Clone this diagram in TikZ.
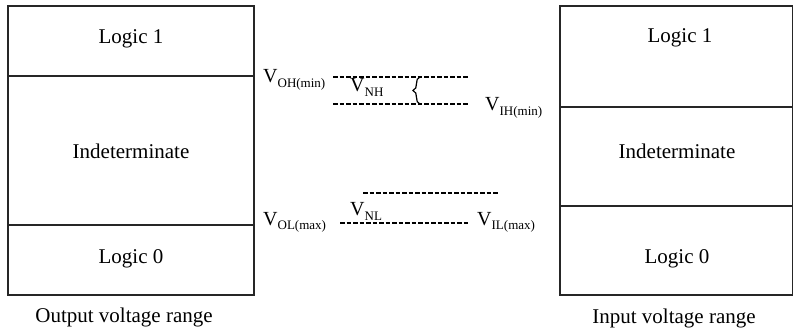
\documentclass[tikz,border=0pt]{standalone}
\usepackage{fontspec}
\setmainfont{Liberation Serif}
\newcommand{\Vsub}[1]{V\raisebox{-4.5pt}{\fontsize{13}{13}\selectfont #1}}
\begin{document}
\begin{tikzpicture}[x=1pt,y=-1pt,
  boxline/.style={draw=black!85,line width=1.4pt},
  lbl/.style={inner sep=0pt,anchor=base,font=\fontsize{21}{25}\selectfont},
  vlbl/.style={inner sep=0pt,anchor=base west,font=\fontsize{20}{24}\selectfont},
  dashline/.style={draw=black,line width=2.2pt,dash pattern=on 4.5pt off 2pt}]
\useasboundingbox (0,0) rectangle (794,331);
% left box
\draw[boxline] (8,6) rectangle (254,295);
\draw[boxline] (8,76) -- (254,76);
\draw[boxline] (8,225) -- (254,225);
\node[lbl] (l1) at (131,44) {Logic 1};
\node[lbl] (li) at (131,159) {Indeterminate};
\node[lbl] (l0) at (131,263) {Logic 0};
\node[lbl] (lcap) at (124,322) {Output voltage range};
% right box
\draw[boxline] (560,6) rectangle (792.5,295);
\draw[boxline] (560,107) -- (792.5,107);
\draw[boxline] (560,206) -- (792.5,206);
\node[lbl] (r1) at (680,43) {Logic 1};
\node[lbl] (ri) at (677,159) {Indeterminate};
\node[lbl] (r0) at (677,263) {Logic 0};
\node[lbl] (rcap) at (674,323) {Input voltage range};
% high noise margin
\node[vlbl] (voh) at (263,83) {\Vsub{OH(min)}};
\node[vlbl] (vnh) at (350,92) {\Vsub{NH}};
\node[vlbl] (vih) at (485,111) {\Vsub{IH(min)}};
\coordinate (oha) at (333,77);
\coordinate (ohb) at (468,77);
\coordinate (iha) at (333,104);
\coordinate (ihb) at (468,104);
\draw[dashline] (oha) -- (ohb);
\draw[dashline] (iha) -- (ihb);
\coordinate (bt) at (420,77);
\coordinate (bm) at (413,90.5);
\coordinate (bb) at (420,104);
\draw[line width=1.2pt] (bt) .. controls (414,78) and (419,89) .. (bm) .. controls (419,92) and (414,103) .. (bb);
% low noise margin
\node[vlbl] (vol) at (263,225) {\Vsub{OL(max)}};
\node[vlbl] (vnl) at (350,215.5) {\Vsub{NL}};
\node[vlbl] (vil) at (477,225) {\Vsub{IL(max)}};
\coordinate (ila) at (363,193);
\coordinate (ilb) at (498,193);
\coordinate (ola) at (340,223);
\coordinate (olb) at (468,223);
\draw[dashline] (ila) -- (ilb);
\draw[dashline] (ola) -- (olb);
\end{tikzpicture}
\end{document}
